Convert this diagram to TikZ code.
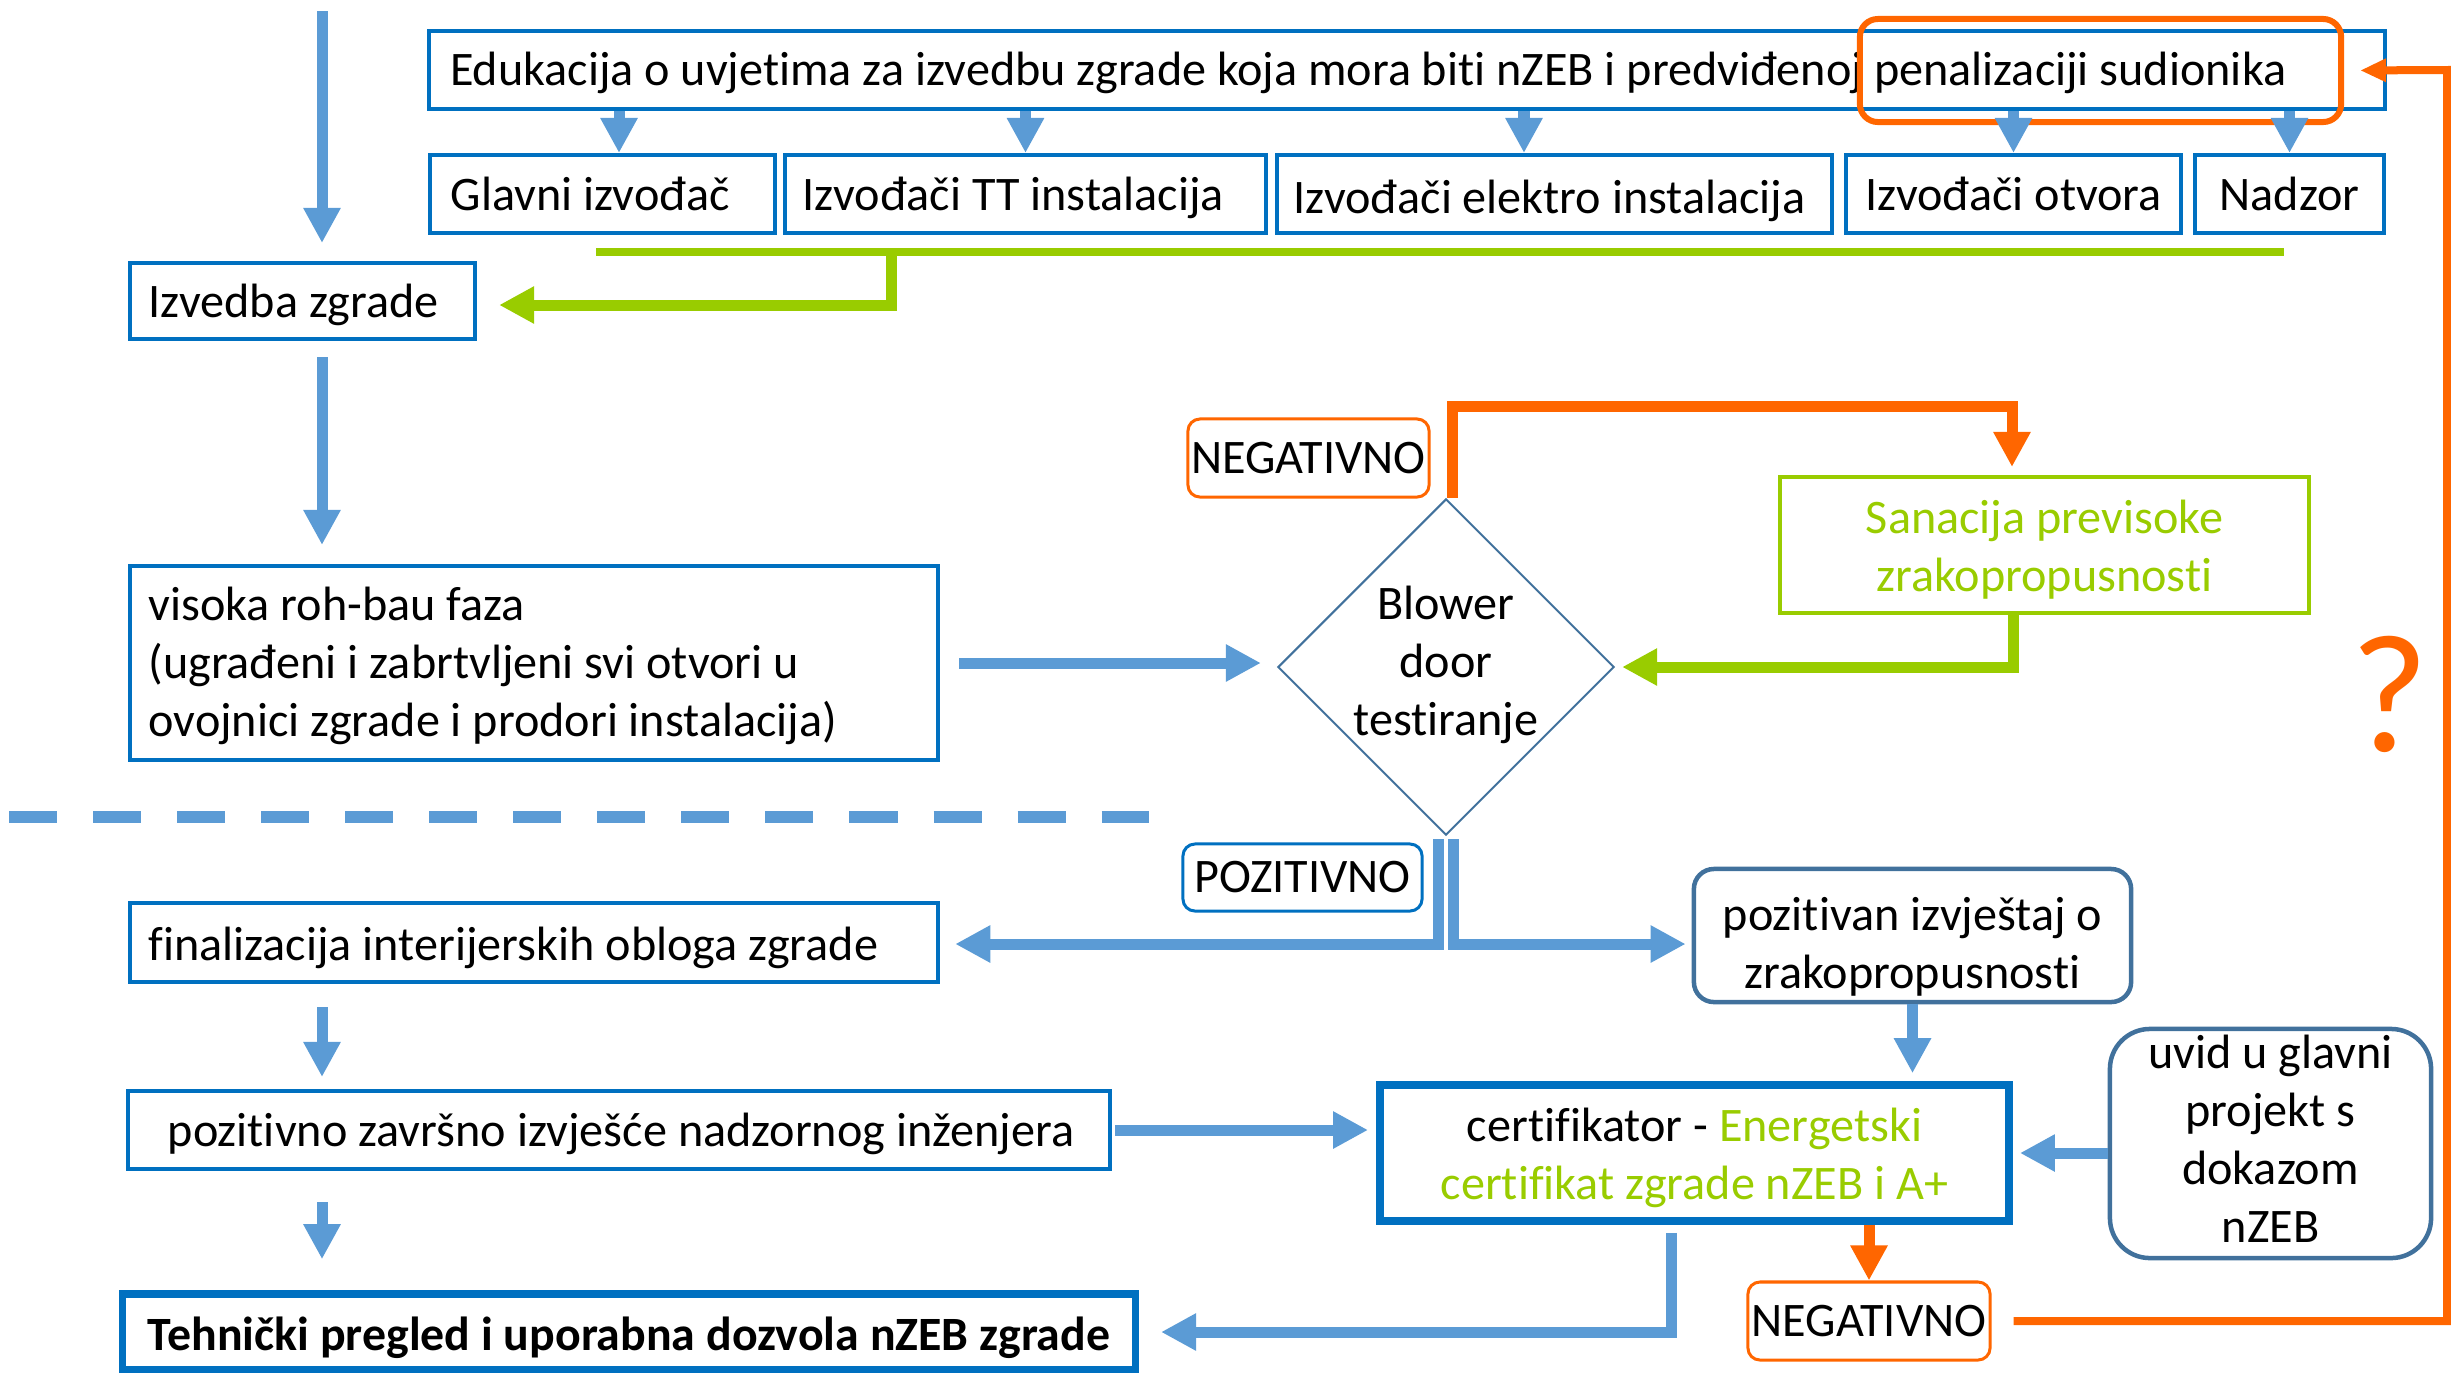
\documentclass[tikz,border=0pt]{standalone}
\usepackage{fontspec}
\setmainfont{Carlito}[Ligatures={NoCommon,NoContextual}]
\usetikzlibrary{arrows.meta,shapes.geometric}
\definecolor{boxblue}{HTML}{0070C0}
\definecolor{arrblue}{HTML}{5B9BD5}
\definecolor{slate}{HTML}{41719C}
\definecolor{lgreen}{HTML}{99CC00}
\definecolor{orng}{HTML}{FF6600}
\newcommand{\dgfont}{\fontsize{13.7}{16.5}\selectfont}
\begin{document}
\begin{tikzpicture}[x=0.01cm,y=-0.01cm,
  every node/.style={font=\dgfont},
  bbox/.style={draw=boxblue, line width=0.04cm, inner sep=0pt},
  thickbox/.style={draw=boxblue, line width=0.075cm, inner sep=0pt},
  rbox/.style={draw=slate, line width=0.045cm, inner sep=0pt, rounded corners=0.2cm},
  negbox/.style={draw=orng, line width=0.03cm, inner sep=0pt, rounded corners=0.12cm},
  ltext/.style={anchor=base west, inner sep=0pt},
  ctext/.style={anchor=base, inner sep=0pt},
  mtext/.style={align=center, inner sep=0pt},
  arr/.style={line width=0.11cm, -{Triangle[width=0.35cm,length=0.35cm]}},
  barr/.style={arr, color=arrblue},
  garr/.style={arr, color=lgreen},
  oarr/.style={arr, color=orng},
]
\useasboundingbox (0,0) rectangle (2451,1372);

% ---------- top: education ----------
\node[bbox, minimum width=19.54cm, minimum height=0.78cm] (edu) at (1407,70) {};
\node[ltext] (eduT) at ([xshift=0.22cm,yshift=-0.15cm]edu.west) {Edukacija o uvjetima za izvedbu zgrade koja mora biti nZEB i predviđenoj penalizaciji sudionika};
\node[draw=orng, line width=0.06cm, rounded corners=0.18cm, minimum width=4.81cm, minimum height=1.03cm, inner sep=0pt] (hl) at (2100.5,70.5) {};

\node[bbox, minimum width=3.45cm, minimum height=0.78cm] (glavni) at (602.5,194) {};
\node[ltext] (glavniT) at ([xshift=0.22cm,yshift=-0.16cm]glavni.west) {Glavni izvođač};
\node[bbox, minimum width=4.81cm, minimum height=0.78cm] (tt) at (1025.5,194) {};
\node[ltext] (ttT) at ([xshift=0.19cm,yshift=-0.16cm]tt.west) {Izvođači TT instalacija};
\node[bbox, minimum width=5.55cm, minimum height=0.78cm] (elektro) at (1554.5,194) {};
\node[ctext] (elektroT) at ([xshift=-0.05cm,yshift=-0.19cm]elektro.center) {Izvođači elektro instalacija};
\node[bbox, minimum width=3.35cm, minimum height=0.78cm] (otvora) at (2013.5,194) {};
\node[ctext] (otvoraT) at ([yshift=-0.16cm]otvora.center) {Izvođači otvora};
\node[bbox, minimum width=1.89cm, minimum height=0.78cm] (nadzor) at (2289.5,194) {};
\node[ctext] (nadzorT) at ([yshift=-0.16cm]nadzor.center) {Nadzor};

% ---------- left column ----------
\node[bbox, minimum width=3.45cm, minimum height=0.76cm] (izvedba) at (302.5,301) {};
\node[ltext] (izvedbaT) at ([xshift=0.2cm,yshift=-0.16cm]izvedba.west) {Izvedba zgrade};
\node[bbox, minimum width=8.08cm, minimum height=1.94cm] (visoka) at (534,663) {};
\node[align=left, inner sep=0pt, anchor=west] (visokaT) at ([xshift=0.2cm,yshift=-0.03cm]visoka.west) {visoka roh-bau faza\\(ugrađeni i zabrtvljeni svi otvori u\\ovojnici zgrade i prodori instalacija)};

\node[bbox, minimum width=8.08cm, minimum height=0.79cm] (fin) at (534,942.5) {};
\node[ltext] (finT) at ([xshift=0.2cm,yshift=-0.18cm]fin.west) {finalizacija interijerskih obloga zgrade};
\node[bbox, minimum width=9.82cm, minimum height=0.78cm] (zav) at (619,1130) {};
\node[ctext] (zavT) at ([xshift=0.02cm,yshift=-0.165cm]zav.center) {pozitivno završno izvješće nadzornog inženjera};
\node[thickbox, minimum width=10.12cm, minimum height=0.76cm] (teh) at (629,1332) {};
\node[ctext, font=\fontsize{13.6}{16.5}\selectfont\bfseries] (tehT) at ([yshift=-0.18cm]teh.center) {Tehnički pregled i uporabna dozvola nZEB zgrade};

% ---------- blower door ----------
\node[diamond, draw=slate, line width=0.02cm, minimum width=3.36cm, minimum height=3.36cm, inner sep=0pt] (dia) at (1446,667) {};
\node[mtext] (diaT) at ([yshift=0.025cm]dia.center) {Blower\\door\\testiranje};
\node[negbox, minimum width=2.41cm, minimum height=0.78cm] (neg1) at (1308.5,458) {NEGATIVNO};
\node[draw=lgreen, line width=0.04cm, inner sep=0pt, minimum width=5.29cm, minimum height=1.36cm] (san) at (2044.5,545) {};
\node[mtext, text=lgreen] (sanT) at ([yshift=-0.045cm]san.center) {Sanacija previsoke\\zrakopropusnosti};
\node[text=orng, font=\fontsize{48}{50}\selectfont, inner sep=0pt] (qm) at (2390,694) {?};

\node[draw=boxblue, line width=0.03cm, rounded corners=0.12cm, minimum width=2.39cm, minimum height=0.67cm, inner sep=0pt] (pozl) at (1302.5,877.5) {POZITIVNO};
\node[rbox, minimum width=4.37cm, minimum height=1.33cm] (pozi) at (1912.5,935.5) {};
\node[mtext] (poziT) at ([yshift=-0.11cm]pozi.center) {pozitivan izvještaj o\\zrakopropusnosti};

% ---------- certification ----------
\node[thickbox, minimum width=6.29cm, minimum height=1.36cm] (cert) at (1694.5,1153) {};
\node[mtext] (certT) at ([yshift=-0.05cm]cert.center) {certifikator - \textcolor{lgreen}{Energetski}\\\textcolor{lgreen}{certifikat zgrade nZEB i A+}};
\node[rbox, rounded corners=0.4cm, minimum width=3.21cm, minimum height=2.29cm] (uvid) at (2270.5,1143.5) {};
\node[mtext] (uvidT) at ([yshift=0.045cm]uvid.center) {uvid u glavni\\projekt s\\dokazom\\nZEB};
\node[negbox, minimum width=2.42cm, minimum height=0.78cm] (neg2) at (1869,1321) {NEGATIVNO};

% ---------- free ends ----------
\coordinate (topin) at (322,11);
\coordinate (gl) at (596,252);
\coordinate (gr) at (2284,252);
\coordinate (gd) at (891,252);
\coordinate (oc) at (2447,70);
\coordinate (dl) at (9,817);
\coordinate (dr) at (1149,817);

% ---------- connectors ----------
\draw[barr, shorten >=0.18cm] (topin) -- (topin |- izvedba.north);
\draw[barr, shorten <=0.16cm, shorten >=0.19cm] (izvedba.south -| topin) -- (visoka.north -| topin);
\draw[barr, shorten <=0.19cm, shorten >=0.16cm] (visoka.east) -- (visoka.east -| dia.west);
\draw[barr, shorten <=0.23cm, shorten >=0.12cm] (fin.south -| topin) -- (zav.north -| topin);
\draw[barr, shorten <=0.31cm, shorten >=0.31cm] (zav.south -| topin) -- (teh.north -| topin);

\foreach \n/\s in {glavni/0.165cm, tt/0cm, elektro/-0.305cm, otvora/0cm, nadzor/0cm}
  \draw[barr] ([xshift=\s]\n.north |- edu.south) -- ([xshift=\s]\n.north);

\draw[lgreen, line width=0.08cm] (gl) -- (gr);
\draw[garr, shorten >=0.22cm] (gd) |- ([yshift=-0.04cm]izvedba.east);

\draw[oarr] ([xshift=0.06cm]dia.north) -- ++(0,-91) -| ([xshift=-0.325cm,yshift=0.08cm]san.north);
\draw[garr, shorten >=0.07cm] ([xshift=-0.315cm]san.south) |- (dia.east);

\draw[barr, shorten >=0.15cm] ([xshift=-0.08cm,yshift=-0.03cm]dia.south) |- ([yshift=-0.015cm]fin.east);
\draw[barr, shorten >=0.06cm] ([xshift=0.07cm,yshift=-0.03cm]dia.south) |- ([yshift=-0.085cm]pozi.west);

\draw[barr, shorten >=0.08cm] (pozi.south) -- (pozi.south |- cert.north);
\draw[barr, shorten <=0.03cm, shorten >=0.08cm] (zav.east) -- (zav.east -| cert.west);
\draw[barr, shorten >=0.07cm] (uvid.west |- cert.east) -- (cert.east);
\draw[barr, shorten >=0.22cm] ([xshift=-0.235cm,yshift=-0.08cm]cert.south) |- (teh.east);
\draw[oarr] (neg2.north |- cert.south) -- (neg2.north);
\draw[orng, line width=0.08cm, -{Triangle[width=0.22cm,length=0.26cm]}, shorten >=0.16cm] ([xshift=0.22cm]neg2.east) -| (oc) -- (hl.east);

\draw[arrblue, line width=0.12cm, dash pattern=on 0.48cm off 0.36cm] (dl) -- (dr);
\end{tikzpicture}
\end{document}
